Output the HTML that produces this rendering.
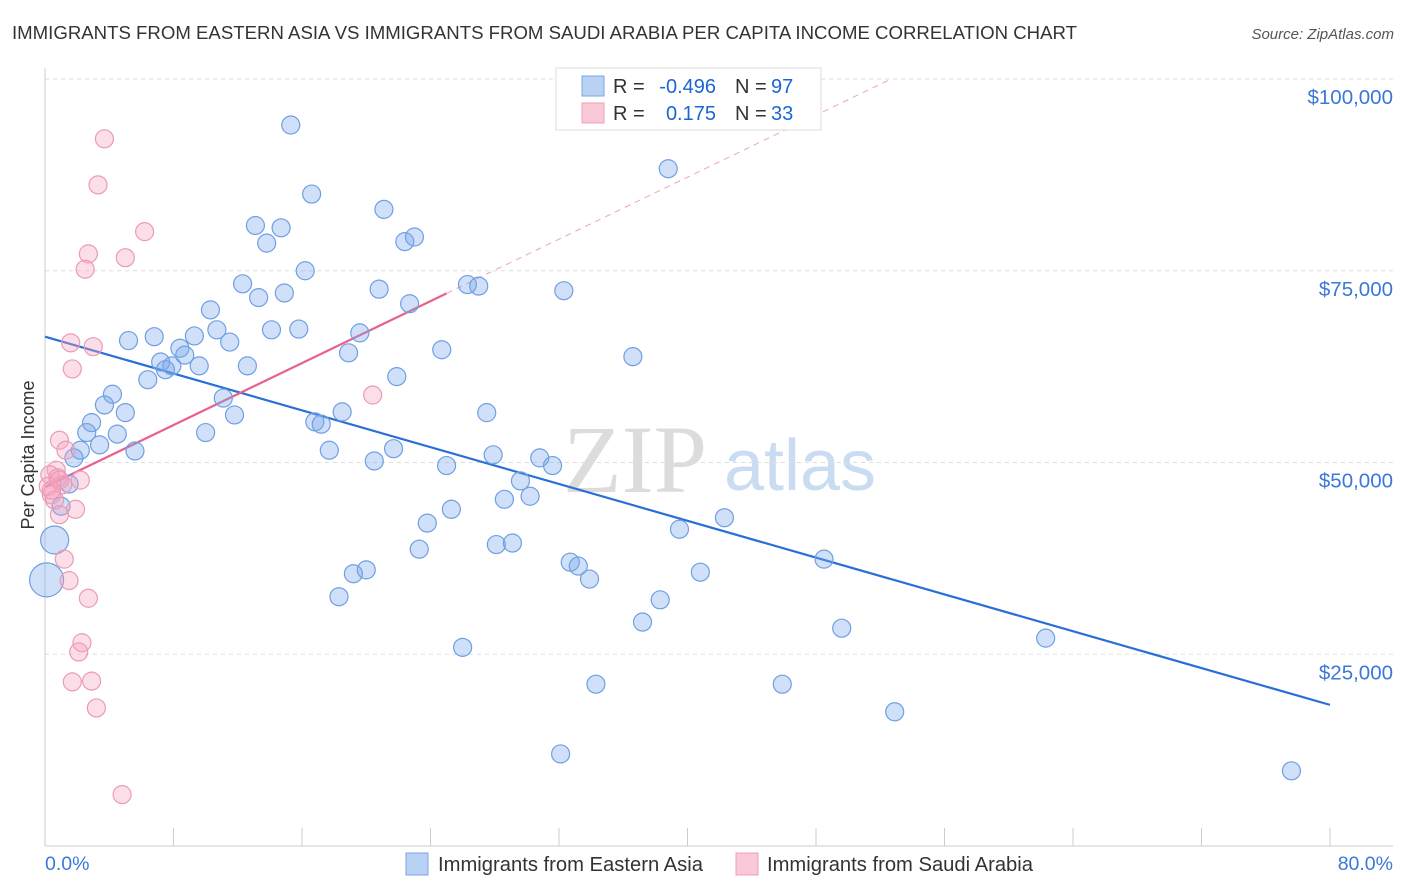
<!DOCTYPE html>
<html><head><meta charset="utf-8"><style>
body{margin:0;background:#fff;font-family:"Liberation Sans",sans-serif;}
svg{display:block}
</style></head><body>
<svg id="chart" width="1406" height="892" viewBox="0 0 1406 892">
<text x="12" y="39" font-size="18" fill="#333" textLength="1065" lengthAdjust="spacingAndGlyphs">IMMIGRANTS FROM EASTERN ASIA VS IMMIGRANTS FROM SAUDI ARABIA PER CAPITA INCOME CORRELATION CHART</text>
<text x="1394" y="39" font-size="15" fill="#555" font-style="italic" text-anchor="end">Source: ZipAtlas.com</text>
<g>
<text x="635" y="492" font-size="96" fill="#dcdcdc" font-family="Liberation Serif,serif" text-anchor="middle">ZIP</text>
<text x="800" y="490" font-size="72" fill="#c9dcf2" text-anchor="middle">atlas</text>
</g>
<g id="grid"></g>
<g id="axes"></g>
<text transform="translate(34,455) rotate(-90)" font-size="18" fill="#333" text-anchor="middle">Per Capita Income</text>
<g id="lines"></g>
<g id="pts"></g>
<g>
<rect x="556" y="68" width="265" height="62" fill="#fff" stroke="#ddd"/>
<rect x="582" y="76" width="22" height="20" fill="#b9d2f3" stroke="#7aa6e6"/>
<rect x="582" y="103" width="22" height="20" fill="#f9c9d8" stroke="#eca0b9"/>
<text x="613" y="93" font-size="20" fill="#333">R = </text><text x="716" y="93" font-size="20" fill="#1a66d6" text-anchor="end">-0.496</text>
<text x="735" y="93" font-size="20" fill="#333">N = </text><text x="771" y="93" font-size="20" fill="#1a66d6">97</text>
<text x="613" y="120" font-size="20" fill="#333">R = </text><text x="716" y="120" font-size="20" fill="#1a66d6" text-anchor="end">0.175</text>
<text x="735" y="120" font-size="20" fill="#333">N = </text><text x="771" y="120" font-size="20" fill="#1a66d6">33</text>
</g>
<g>
<rect x="406" y="853" width="22" height="22" fill="#b9d2f3" stroke="#7aa6e6"/>
<text x="438" y="871" font-size="20" fill="#333" textLength="265" lengthAdjust="spacingAndGlyphs">Immigrants from Eastern Asia</text>
<rect x="736" y="853" width="22" height="22" fill="#f9c9d8" stroke="#eca0b9"/>
<text x="767" y="871" font-size="20" fill="#333" textLength="266" lengthAdjust="spacingAndGlyphs">Immigrants from Saudi Arabia</text>
</g>
</svg>
<script>
const yTicks=[25000,50000,75000,100000];
const yTickLabels=["$25,000","$50,000","$75,000","$100,000"];
const xTicks=[0,8,16,24,32,40,48,56,64,72,80];
const xEndLabels=["0.0%","80.0%"];
const blueX=[15.3,16.6,21.1,13.1,14.7,22.4,23.0,13.8,16.2,12.3,13.3,14.9,20.8,22.7,26.3,27.0,32.3,10.3,5.2,6.8,10.7,11.5,9.3,14.1,15.8,19.6,18.9,8.4,8.7,7.2,7.9,7.5,9.6,6.4,4.2,12.6,24.7,36.6,21.9,11.1,3.7,5.0,11.8,2.9,2.6,4.5,10.0,16.8,17.2,18.5,27.5,3.4,2.2,5.6,1.8,17.7,21.7,20.5,30.8,31.6,27.9,25.0,1.5,29.6,28.6,30.2,25.3,1.0,23.8,42.3,39.5,23.3,28.1,29.1,32.7,33.2,33.9,40.8,48.5,20.0,19.2,18.3,38.3,37.2,49.6,62.3,26.0,34.3,45.9,52.9,32.1,77.6,38.8,0.6,0.1];
const blueY=[94.0,85.0,83.0,80.9,80.6,78.8,79.4,78.6,75.0,73.3,71.5,72.1,72.6,70.7,73.2,73.0,72.4,69.9,65.9,66.4,67.3,65.7,66.5,67.3,67.4,66.9,64.3,64.9,64.0,63.1,62.6,62.1,62.6,60.8,58.9,62.6,64.7,63.8,61.2,58.4,57.5,56.5,56.2,55.2,53.9,53.7,53.9,55.3,55.0,56.6,56.5,52.3,51.6,51.5,50.6,51.6,51.8,50.2,50.6,49.6,51.0,49.6,47.2,47.6,45.2,45.6,43.9,44.3,42.1,42.8,41.3,38.7,39.3,39.5,37.0,36.5,34.8,35.7,37.4,36.0,35.5,32.5,32.1,29.2,28.4,27.1,25.9,21.1,21.1,17.5,12.0,9.8,88.3,39.9,34.7];
const blueBig=[0.6,0.1];
const pinkX=[3.7,3.3,6.2,2.7,5.0,2.5,1.6,3.0,1.7,20.4,0.9,1.3,0.7,0.3,0.8,2.2,0.2,1.1,0.4,0.6,1.9,0.9,1.2,1.5,2.7,2.3,2.1,1.7,2.9,3.2,4.8,0.9,0.4];
const pinkY=[92.2,86.2,80.1,77.2,76.7,75.2,65.6,65.1,62.2,58.8,52.9,51.6,49.0,48.4,48.0,47.7,46.9,47.1,45.8,45.1,43.9,43.2,37.4,34.6,32.3,26.5,25.3,21.4,21.5,18.0,6.7,47.7,46.4];
const blueTrend=[66.4,-0.6];
const pinkTrend=[46.8,1.01];
const NS="http://www.w3.org/2000/svg";
const X0=45,X1=1330,Y0=846,Y100=79;
const sx=p=>X0+(p/80)*(X1-X0);
const sy=v=>Y0-(v/100000)*(Y0-Y100);
function mk(tag,attrs,parent){const e=document.createElementNS(NS,tag);for(const k in attrs)e.setAttribute(k,attrs[k]);parent.appendChild(e);return e;}
const grid=document.getElementById('grid'),axes=document.getElementById('axes');
mk('line',{x1:X0,x2:1393,y1:Y100,y2:Y100,stroke:'#ddd','stroke-dasharray':'4,4'},grid);
yTicks.forEach((t,i)=>{
 const l=mk('line',{x1:X0,x2:1393,y1:sy(t),y2:sy(t),stroke:'#ddd','stroke-dasharray':'4,4'},grid);
 
 
 const tx=mk('text',{x:1393,y:sy(t)+25,'font-size':20.5,fill:'#3b78d8','text-anchor':'end'},axes);
 tx.textContent=yTickLabels[i];
 
 
});
mk('line',{x1:X0,x2:X0,y1:68,y2:Y0,stroke:'#ccc'},axes);
mk('line',{x1:X0,x2:1393,y1:Y0,y2:Y0,stroke:'#ccc'},axes);
xTicks.forEach(t=>{const l=mk('line',{x1:sx(t),x2:sx(t),y1:828,y2:Y0,stroke:'#ccc'},axes);
 
 });
const a=mk('text',{x:45,y:870,'font-size':19.5,fill:'#3b78d8'},axes);a.textContent=xEndLabels[0];


const b=mk('text',{x:1393,y:870,'font-size':19.5,fill:'#3b78d8','text-anchor':'end'},axes);b.textContent=xEndLabels[1];


const pts=document.getElementById('pts');
blueX.forEach((x,i)=>{const big=blueBig.indexOf(x)>=0&&i>=blueX.length-2;
 const r=big?(i===blueX.length-1?17:14):9;
 const c=mk('circle',{cx:sx(x),cy:sy(blueY[i]*1000),r:r,fill:'rgba(120,165,235,0.35)',stroke:'#6f9fe3','stroke-width':1.2},pts);
 
 });
pinkX.forEach((x,i)=>{const c=mk('circle',{cx:sx(x),cy:sy(pinkY[i]*1000),r:9,fill:'rgba(245,160,190,0.35)',stroke:'#eb9bb6','stroke-width':1.2},pts);
 
 });
const lines=document.getElementById('lines');
const f=(tr,p)=>sy((tr[0]+tr[1]*p)*1000);
const bl=mk('line',{x1:sx(0),y1:f(blueTrend,0),x2:sx(80),y2:f(blueTrend,80),stroke:'#2a6fd6','stroke-width':2.2},lines);


const pl=mk('line',{x1:sx(0),y1:f(pinkTrend,0),x2:sx(25),y2:f(pinkTrend,25),stroke:'#e8628e','stroke-width':2.2},lines);


const pd=mk('line',{x1:sx(25),y1:f(pinkTrend,25),x2:sx(52.6),y2:f(pinkTrend,52.6),stroke:'#eaa5bd','stroke-width':1,'stroke-dasharray':'6,5'},lines);


</script>
</body></html>
